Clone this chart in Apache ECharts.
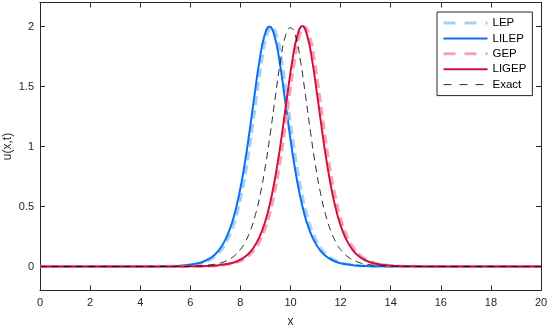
<!DOCTYPE html>
<html>
<head>
<meta charset="utf-8">
<script src="https://cdn.jsdelivr.net/npm/echarts@6/dist/echarts.min.js"></script>
<style>
html,body{margin:0;padding:0;background:#fff;}
#chart{width:548px;height:327px;}
</style>
</head>
<body>
<div id="chart"></div>
<script>
// ---- Data ----
var seriesNames = ['LEP', 'LILEP', 'GEP', 'LIGEP', 'Exact'];
var xTicks = [0, 2, 4, 6, 8, 10, 12, 14, 16, 18, 20];
var yTicks = [0, 0.5, 1, 1.5, 2];

var lepX = [0, 4.25, 4.85, 5.45, 5.85, 6.25, 6.45, 6.65, 6.85, 7.05, 7.25, 7.45, 7.65, 7.85, 8.05, 8.25, 8.45, 8.65, 8.85, 9.05, 9.25, 9.45, 9.65, 9.85, 10.05, 10.25, 10.45, 10.65, 10.85, 11.05, 11.25, 11.45, 11.65, 11.85, 12.05, 12.25, 12.65, 13.05, 13.65, 14.25, 20];
var lepY = [0, 0.0004, 0.0012, 0.004, 0.009, 0.020, 0.029, 0.044, 0.065, 0.096, 0.141, 0.207, 0.301, 0.432, 0.610, 0.840, 1.118, 1.423, 1.711, 1.922, 1.995, 1.922, 1.711, 1.423, 1.118, 0.840, 0.610, 0.432, 0.301, 0.207, 0.141, 0.096, 0.065, 0.044, 0.029, 0.020, 0.009, 0.004, 0.0012, 0.0004, 0];

var lilepX = [0, 4.16, 4.76, 5.36, 5.76, 6.16, 6.36, 6.56, 6.76, 6.96, 7.16, 7.36, 7.56, 7.76, 7.96, 8.16, 8.36, 8.56, 8.76, 8.96, 9.16, 9.36, 9.56, 9.76, 9.96, 10.16, 10.36, 10.56, 10.76, 10.96, 11.16, 11.36, 11.56, 11.76, 11.96, 12.16, 12.56, 12.96, 13.56, 14.16, 20];
var lilepY = [0, 0.0004, 0.0012, 0.004, 0.009, 0.020, 0.029, 0.044, 0.065, 0.096, 0.141, 0.207, 0.301, 0.432, 0.610, 0.840, 1.118, 1.423, 1.711, 1.922, 2.000, 1.922, 1.711, 1.423, 1.118, 0.840, 0.610, 0.432, 0.301, 0.207, 0.141, 0.096, 0.065, 0.044, 0.029, 0.020, 0.009, 0.004, 0.0012, 0.0004, 0];

var gepX = [0, 5.56, 6.16, 6.76, 7.16, 7.56, 7.76, 7.96, 8.16, 8.36, 8.56, 8.76, 8.96, 9.16, 9.36, 9.56, 9.76, 9.96, 10.16, 10.36, 10.56, 10.76, 10.96, 11.16, 11.36, 11.56, 11.76, 11.96, 12.16, 12.36, 12.56, 12.76, 12.96, 13.16, 13.36, 13.56, 13.96, 14.36, 14.96, 15.56, 20];
var gepY = [0, 0.0004, 0.0012, 0.004, 0.009, 0.020, 0.029, 0.044, 0.065, 0.096, 0.141, 0.207, 0.301, 0.432, 0.610, 0.840, 1.118, 1.423, 1.711, 1.922, 1.995, 1.922, 1.711, 1.423, 1.118, 0.840, 0.610, 0.432, 0.301, 0.207, 0.141, 0.096, 0.065, 0.044, 0.029, 0.020, 0.009, 0.004, 0.0012, 0.0004, 0];

var ligepX = [0, 5.47, 6.07, 6.67, 7.07, 7.47, 7.67, 7.87, 8.07, 8.27, 8.47, 8.67, 8.87, 9.07, 9.27, 9.47, 9.67, 9.87, 10.07, 10.27, 10.47, 10.67, 10.87, 11.07, 11.27, 11.47, 11.67, 11.87, 12.07, 12.27, 12.47, 12.67, 12.87, 13.07, 13.27, 13.47, 13.87, 14.27, 14.87, 15.47, 20];
var ligepY = [0, 0.0004, 0.0012, 0.004, 0.009, 0.020, 0.029, 0.044, 0.065, 0.096, 0.141, 0.207, 0.301, 0.432, 0.610, 0.840, 1.118, 1.423, 1.711, 1.922, 2.005, 1.922, 1.711, 1.423, 1.118, 0.840, 0.610, 0.432, 0.301, 0.207, 0.141, 0.096, 0.065, 0.044, 0.029, 0.020, 0.009, 0.004, 0.0012, 0.0004, 0];

var exactX = [0, 5.0, 5.6, 6.2, 6.6, 7.0, 7.2, 7.4, 7.6, 7.8, 8.0, 8.2, 8.4, 8.6, 8.8, 9.0, 9.2, 9.4, 9.6, 9.8, 10.0, 10.2, 10.4, 10.6, 10.8, 11.0, 11.2, 11.4, 11.6, 11.8, 12.0, 12.2, 12.4, 12.6, 12.8, 13.0, 13.4, 13.8, 14.4, 15.0, 20];
var exactY = [0, 0.0004, 0.0012, 0.004, 0.009, 0.020, 0.029, 0.044, 0.065, 0.096, 0.141, 0.207, 0.301, 0.432, 0.610, 0.840, 1.118, 1.423, 1.711, 1.922, 1.990, 1.922, 1.711, 1.423, 1.118, 0.840, 0.610, 0.432, 0.301, 0.207, 0.141, 0.096, 0.065, 0.044, 0.029, 0.020, 0.009, 0.004, 0.0012, 0.0004, 0];

function pairs(xs, ys) {
  var out = [];
  for (var i = 0; i < xs.length; i++) out.push([xs[i], ys[i]]);
  return out;
}

var FONT = "'Liberation Sans', Arial, Helvetica, sans-serif";
var AX = '#262626';

var styles = {
  'LEP':   {color: '#a3d0f6', width: 3, type: [9, 5]},
  'LILEP': {color: '#0a6ff2', width: 2, type: 'solid'},
  'GEP':   {color: '#f6a3b8', width: 3, type: [9, 5]},
  'LIGEP': {color: '#d1123f', width: 2, type: 'solid'},
  'Exact': {color: '#111111', width: 0.9, type: [7, 5]}
};

var chart = echarts.init(document.getElementById('chart'), null, {renderer: 'canvas'});

function baseLine(name, xs, ys, z) {
  var s = styles[name];
  return {
    name: name,
    type: 'line',
    data: pairs(xs, ys),
    showSymbol: false,
    symbol: 'none',
    smooth: 0.5,
    z: z,
    lineStyle: {color: s.color, width: s.width, type: s.type, cap: 'butt'},
    itemStyle: {color: s.color},
    emphasis: {disabled: true}
  };
}

var legendData = seriesNames.map(function (n) {
  var s = styles[n];
  return {
    name: n,
    itemStyle: {opacity: 0},
    lineStyle: {color: s.color, width: s.width, type: n === 'Exact' ? [8, 8] : (s.type === 'solid' ? 'solid' : [12, 9]), cap: 'butt'}
  };
});

var option = {
  animation: false,
  backgroundColor: '#fff',
  grid: {left: 40, right: 7, top: 2.5, bottom: 36.5, containLabel: false, outerBoundsMode: 'none'},
  legend: {
    data: legendData,
    orient: 'vertical',
    left: 437,
    top: 12,
    padding: [5, 6, 5, 5],
    itemWidth: 44,
    itemHeight: 12,
    itemGap: 3.4,
    backgroundColor: '#fff',
    borderColor: AX,
    borderWidth: 1,
    borderRadius: 0,
    selectedMode: false,
    textStyle: {fontFamily: FONT, fontSize: 11.5, color: '#000'}
  },
  xAxis: [{
    type: 'value', min: 0, max: 20, interval: 2, position: 'bottom',
    name: 'x', nameLocation: 'middle', nameGap: 25, nameMoveOverlap: false,
    nameTextStyle: {fontFamily: FONT, fontSize: 12, color: AX},
    axisLine: {onZero: false, lineStyle: {color: AX, width: 1}},
    axisTick: {inside: true, length: 5, lineStyle: {color: AX}},
    axisLabel: {fontFamily: FONT, fontSize: 11, color: AX, margin: 7,
      customValues: xTicks},
    splitLine: {show: false}
  }, {
    type: 'value', min: 0, max: 20, interval: 2, position: 'top',
    axisLine: {onZero: false, lineStyle: {color: AX, width: 1}},
    axisTick: {inside: true, length: 5, lineStyle: {color: AX}},
    axisLabel: {show: false},
    splitLine: {show: false}
  }],
  yAxis: [{
    type: 'value', min: -0.2, max: 2.2, position: 'left',
    name: 'u(x,t)', nameLocation: 'middle', nameGap: 26, nameMoveOverlap: false,
    nameTextStyle: {fontFamily: FONT, fontSize: 12, color: AX},
    axisLine: {onZero: false, lineStyle: {color: AX, width: 1}},
    axisTick: {inside: true, length: 5, lineStyle: {color: AX}, customValues: yTicks},
    axisLabel: {fontFamily: FONT, fontSize: 11, color: AX, margin: 6, customValues: yTicks},
    splitLine: {show: false}
  }, {
    type: 'value', min: -0.2, max: 2.2, position: 'right',
    axisLine: {onZero: false, lineStyle: {color: AX, width: 1}},
    axisTick: {inside: true, length: 5, lineStyle: {color: AX}, customValues: yTicks},
    axisLabel: {show: false},
    splitLine: {show: false}
  }],
  series: [
    baseLine('LEP', lepX, lepY, 2),
    baseLine('LILEP', lilepX, lilepY, 3),
    baseLine('GEP', gepX, gepY, 4),
    baseLine('LIGEP', ligepX, ligepY, 5),
    baseLine('Exact', exactX, exactY, 6)
  ]
};
chart.setOption(option);
</script>
</body>
</html>
